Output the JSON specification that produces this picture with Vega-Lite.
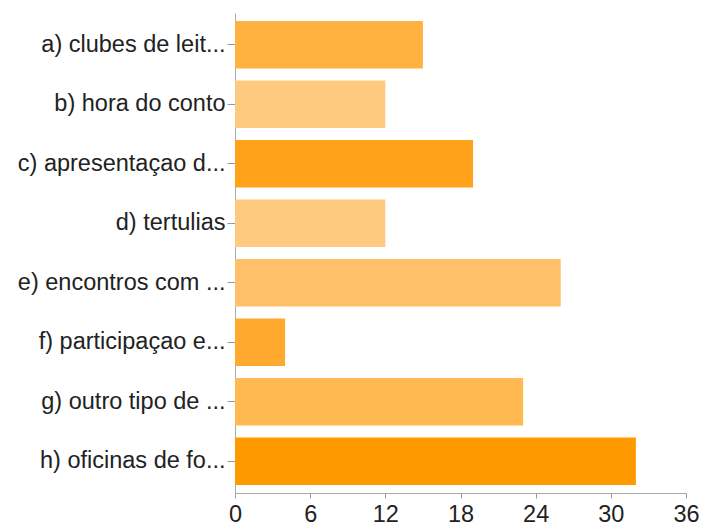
{
  "$schema": "https://vega.github.io/schema/vega-lite/v6.json",
  "width": 451,
  "height": 480,
  "autosize": "none",
  "padding": {"left": 235, "top": 13, "right": 16, "bottom": 32},
  "background": "white",
  "data": {
    "values": [
      {"label": "a) clubes de leit...", "value": 15, "color": "#FFB23F"},
      {"label": "b) hora do conto", "value": 12, "color": "#FECA80"},
      {"label": "c) apresentaçao d...", "value": 19, "color": "#FFA21A"},
      {"label": "d) tertulias", "value": 12, "color": "#FECA80"},
      {"label": "e) encontros com ...", "value": 26, "color": "#FFC06A"},
      {"label": "f) participaçao e...", "value": 4, "color": "#FFAA2E"},
      {"label": "g) outro tipo de ...", "value": 23, "color": "#FFB951"},
      {"label": "h) oficinas de fo...", "value": 32, "color": "#FF9900"}
    ]
  },
  "mark": {"type": "bar"},
  "encoding": {
    "y": {
      "field": "label", "type": "nominal", "sort": null,
      "scale": {"paddingInner": 0.2, "paddingOuter": 0.135},
      "axis": {
        "title": null, "labelFont": "Liberation Sans", "labelFontSize": 23.5,
        "labelColor": "#222", "tickColor": "#999", "tickSize": 8,
        "domainColor": "#aaa", "labelPadding": 2, "labelLimit": 260, "grid": false
      }
    },
    "x": {
      "field": "value", "type": "quantitative",
      "scale": {"domain": [0, 36]},
      "axis": {
        "title": null, "values": [0, 6, 12, 18, 24, 30, 36],
        "labelFont": "Liberation Sans", "labelFontSize": 23.5, "labelColor": "#222",
        "tickColor": "#999", "tickSize": 5, "domainColor": "#aaa", "grid": false,
        "labelPadding": 4, "labelFlush": false, "labelOverlap": false
      }
    },
    "color": {"field": "color", "type": "nominal", "scale": null, "legend": null}
  },
  "config": {"view": {"stroke": null}}
}
